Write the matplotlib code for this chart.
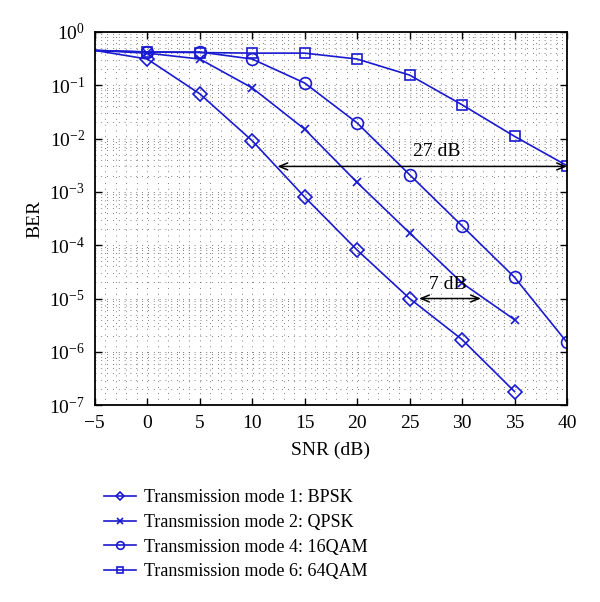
import numpy as np
import matplotlib
matplotlib.use('Agg')
import matplotlib.pyplot as plt
from matplotlib.ticker import LogLocator, MultipleLocator, NullFormatter

plt.rcParams['font.family'] = ['Liberation Serif', 'DejaVu Serif']
plt.rcParams['mathtext.fontset'] = 'stix'

snr = [-5, 0, 5, 10, 15, 20, 25, 30, 35, 40]
ber_bpsk = [0.45, 0.31, 0.069, 0.0091, 8.0e-4, 8.1e-5, 1.0e-5, 1.7e-6, 1.8e-7]
ber_qpsk = [0.45, 0.40, 0.31, 0.089, 0.015, 1.5e-3, 1.7e-4, 1.95e-5, 4.0e-6]
ber_16qam = [0.45, 0.42, 0.42, 0.31, 0.11, 0.0196, 2.1e-3, 2.3e-4, 2.5e-5, 1.5e-6]
ber_64qam = [0.45, 0.42, 0.41, 0.40, 0.40, 0.31, 0.155, 0.043, 0.011, 3.1e-3]

labels = ['Transmission mode 1: BPSK', 'Transmission mode 2: QPSK',
          'Transmission mode 4: 16QAM', 'Transmission mode 6: 64QAM']

blue = '#1a1ad0'

fig = plt.figure(figsize=(6.0, 6.02), dpi=100)
ax = fig.add_axes([0.158, 0.327, 0.787, 0.620])

# markers are not drawn at -5 dB (start point)
ax.plot(snr[:len(ber_bpsk)], ber_bpsk, '-', color=blue, lw=1.2, marker='D', ms=7,
        mfc='none', mec=blue, mew=1.2, markevery=range(1, len(ber_bpsk)), label=labels[0])
ax.plot(snr[:len(ber_qpsk)], ber_qpsk, '-', color=blue, lw=1.2, marker='x', ms=6,
        mec=blue, mew=1.2, markevery=range(1, len(ber_qpsk)), label=labels[1])
ax.plot(snr, ber_16qam, '-', color=blue, lw=1.2, marker='o', ms=8.5,
        mfc='none', mec=blue, mew=1.2, markevery=range(1, len(ber_16qam)), label=labels[2])
ax.plot(snr, ber_64qam, '-', color=blue, lw=1.2, marker='s', ms=7,
        mfc='none', mec=blue, mew=1.2, markevery=range(1, len(ber_64qam)), label=labels[3])

# annotations
ax.annotate('', xy=(12.4, 3e-3), xytext=(40, 3e-3),
            arrowprops=dict(arrowstyle='<->,head_length=0.6,head_width=0.25',
                            color='black', lw=1.1, shrinkA=0, shrinkB=0))
ax.text(27.6, 3.9e-3, '27 dB', fontsize=14, ha='center', va='bottom')
ax.annotate('', xy=(25.9, 1e-5), xytext=(31.8, 1e-5),
            arrowprops=dict(arrowstyle='<->,head_length=0.6,head_width=0.25',
                            color='black', lw=1.1, shrinkA=0, shrinkB=0))
ax.text(28.6, 1.25e-5, '7 dB', fontsize=14, ha='center', va='bottom')

ax.set_yscale('log')
ax.set_xlim(-5, 40)
ax.set_ylim(1e-7, 1)
ax.xaxis.set_major_locator(MultipleLocator(5))
ax.xaxis.set_minor_locator(MultipleLocator(1))
ax.yaxis.set_major_locator(LogLocator(base=10, numticks=10))
ax.yaxis.set_minor_locator(LogLocator(base=10, subs=np.arange(2, 10), numticks=20))
ax.yaxis.set_minor_formatter(NullFormatter())
ax.grid(True, which='both', ls=(0, (1, 6)), color='#555555', lw=0.6)
for s in ax.spines.values():
    s.set_linewidth(1.3)
ax.tick_params(which='both', direction='in', top=True, right=True, labelsize=14, pad=7)
ax.tick_params(which='minor', length=0)
ax.tick_params(which='major', length=5, width=1.0)
ax.set_xlabel('SNR (dB)', fontsize=14, labelpad=7)
ax.set_ylabel('BER', fontsize=14, labelpad=4)

fig.legend(loc='upper left', bbox_to_anchor=(0.152, 0.208), frameon=False,
           fontsize=13, handlelength=1.8, labelspacing=0.42, handletextpad=0.4,
           borderpad=0.2, markerscale=0.65)

fig.savefig('out.png', dpi=100)
